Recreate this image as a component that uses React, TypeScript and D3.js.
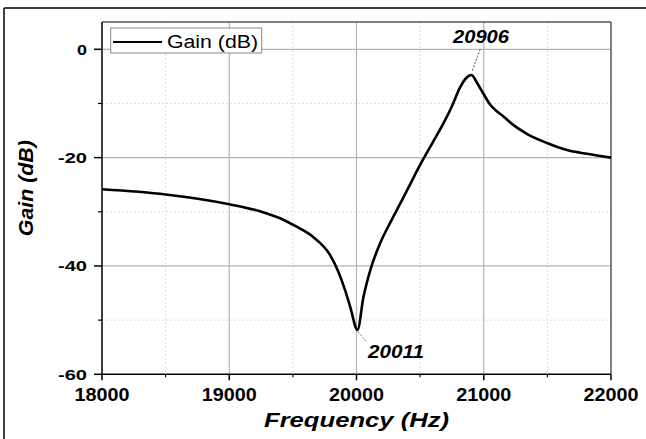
import React from "react";
import * as d3 from "d3";

const freq = [18000, 18500, 19000, 19255, 19400, 19494, 19557, 19662, 19793, 19858, 19911, 19950, 20008, 20055, 20108, 20186, 20265, 20343, 20396, 20450, 20501, 20606, 20685, 20750, 20815, 20862, 20903, 20950, 21000, 21050, 21100, 21150, 21234, 21339, 21497, 21654, 21812, 22000];
const gain = [-25.85, -26.8, -28.6, -30.0, -31.2, -32.3, -33.1, -34.7, -38.0, -41.1, -44.5, -47.5, -51.8, -45.7, -40.8, -35.8, -32.0, -28.5, -26.1, -23.6, -21.3, -16.9, -13.6, -10.5, -7.0, -5.3, -4.75, -6.3, -8.3, -10.2, -11.4, -12.3, -14.0, -15.6, -17.3, -18.6, -19.3, -20.0];

const xMajor = [18000, 19000, 20000, 21000, 22000];
const xMinor = [18500, 19500, 20500, 21500];
const yMajor = [0, -20, -40, -60];
const yMinor = [-10, -30, -50];
const annotations = [
  { f: 20906, g: -4.75, label: "20906" },
  { f: 20011, g: -51.8, label: "20011" },
];
const seriesName = "Gain (dB)";
const xTitle = "Frequency (Hz)";
const yTitle = "Gain (dB)";

const W = 646, H = 439;
const L = 102, R = 611, T = 22, B = 374.3;
const FONT = "'Liberation Sans', Arial, sans-serif";

export default function App() {
  const x = d3.scaleLinear().domain([18000, 22000]).range([L, R]);
  const y = d3.scaleLinear().domain([-60, 5.04]).range([B, T]);
  const line = d3
    .line<number>()
    .x((_, i) => x(freq[i]))
    .y((d) => y(d))
    .curve(d3.curveMonotoneX);

  const [a1, a2] = annotations;
  return (
    <svg width={W} height={H} style={{ position: "absolute", left: 0, top: 0, background: "#fff" }}>
      <rect x={0} y={0} width={W} height={H} fill="#fff" />
      {/* outer frame */}
      <line x1={4} y1={8} x2={646} y2={8} stroke="#000" strokeWidth={1.5} />
      <line x1={4} y1={8} x2={4} y2={439} stroke="#000" strokeWidth={1.5} />

      {/* minor grid */}
      {xMinor.map((v) => (
        <line key={"xm" + v} x1={x(v)} x2={x(v)} y1={T} y2={B} stroke="#dcdcdc" strokeDasharray="2,2" strokeWidth={1} />
      ))}
      {yMinor.map((v) => (
        <line key={"ym" + v} x1={L} x2={R} y1={y(v)} y2={y(v)} stroke="#dcdcdc" strokeDasharray="2,2" strokeWidth={1} />
      ))}
      {/* major grid */}
      {xMajor.slice(1, -1).map((v) => (
        <line key={"xg" + v} x1={x(v)} x2={x(v)} y1={T} y2={B} stroke="#b4b4b4" strokeWidth={1.2} />
      ))}
      {yMajor.slice(0, -1).map((v) => (
        <line key={"yg" + v} x1={L} x2={R} y1={y(v)} y2={y(v)} stroke="#b4b4b4" strokeWidth={1.2} />
      ))}

      {/* frame top/right */}
      <line x1={L} x2={R} y1={T} y2={T} stroke="#555" strokeWidth={1.5} />
      <line x1={R} x2={R} y1={T} y2={B} stroke="#555" strokeWidth={1.5} />

      {/* curve */}
      <path d={line(gain) || ""} fill="none" stroke="#000" strokeWidth={2.6} strokeLinejoin="round" />

      {/* axes */}
      <line x1={L} x2={L} y1={T} y2={B} stroke="#000" strokeWidth={1.5} />
      <line x1={L} x2={R} y1={B} y2={B} stroke="#000" strokeWidth={1.5} />
      {xMajor.map((v) => (
        <g key={"xt" + v}>
          <line x1={x(v)} x2={x(v)} y1={B} y2={B + 6} stroke="#000" strokeWidth={1.5} />
          <text x={x(v)} y={B + 27} textAnchor="middle" fontFamily={FONT} fontWeight="bold" fontSize={19} textLength={55} lengthAdjust="spacingAndGlyphs">
            {v}
          </text>
        </g>
      ))}
      {xMinor.map((v) => (
        <line key={"xmt" + v} x1={x(v)} x2={x(v)} y1={B} y2={B + 3} stroke="#000" strokeWidth={1.2} />
      ))}
      {yMajor.map((v) => (
        <g key={"yt" + v}>
          <line x1={L - 8} x2={L} y1={y(v)} y2={y(v)} stroke="#000" strokeWidth={1.5} />
          <text
            x={L - 15}
            y={y(v) + 5.5}
            textAnchor="end"
            fontFamily={FONT}
            fontWeight="bold"
            fontSize={15}
            textLength={v === 0 ? 10 : 29}
            lengthAdjust="spacingAndGlyphs"
          >
            {v}
          </text>
        </g>
      ))}
      {yMinor.map((v) => (
        <line key={"ymt" + v} x1={L - 4} x2={L} y1={y(v)} y2={y(v)} stroke="#000" strokeWidth={1.2} />
      ))}

      {/* titles */}
      <text x={(L + R) / 2} y={427} textAnchor="middle" fontFamily={FONT} fontWeight="bold" fontStyle="italic" fontSize={21} textLength={185} lengthAdjust="spacingAndGlyphs">
        {xTitle}
      </text>
      <text
        transform={`translate(33,${(T + B) / 2 - 10}) rotate(-90)`}
        textAnchor="middle"
        fontFamily={FONT}
        fontWeight="bold"
        fontStyle="italic"
        fontSize={21}
        textLength={96}
        lengthAdjust="spacingAndGlyphs"
      >
        {yTitle}
      </text>

      {/* legend */}
      <rect x={110.7} y={28} width={151} height={25} fill="#fff" stroke="#888" strokeWidth={1} />
      <line x1={113} x2={162} y1={42} y2={42} stroke="#000" strokeWidth={2} />
      <text x={167} y={47.5} fontFamily={FONT} fontSize={18} textLength={91} lengthAdjust="spacingAndGlyphs">
        {seriesName}
      </text>

      {/* annotations */}
      <line x1={x(a1.f) + 8.5} y1={49} x2={x(a1.f)} y2={y(a1.g) - 3} stroke="#555" strokeDasharray="2,1.5" strokeWidth={1} />
      <text x={481} y={42.7} textAnchor="middle" fontFamily={FONT} fontWeight="bold" fontStyle="italic" fontSize={19} textLength={56} lengthAdjust="spacingAndGlyphs">
        {a1.label}
      </text>
      <line x1={x(a2.f)} y1={y(a2.g) + 2} x2={x(a2.f) + 9} y2={y(a2.g) + 12} stroke="#777" strokeDasharray="2,1.5" strokeWidth={1} />
      <text x={396} y={357.7} textAnchor="middle" fontFamily={FONT} fontWeight="bold" fontStyle="italic" fontSize={19} textLength={56} lengthAdjust="spacingAndGlyphs">
        {a2.label}
      </text>
    </svg>
  );
}
